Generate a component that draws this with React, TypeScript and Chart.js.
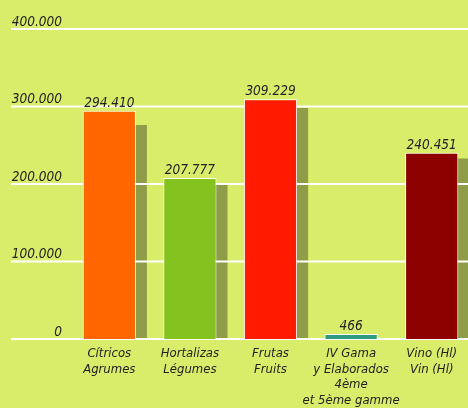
import React, { useEffect, useRef } from "react";
import { Chart, registerables } from "chart.js";

Chart.register(...registerables);

const categories: string[][] = [
  ["Cítricos", "Agrumes"],
  ["Hortalizas", "Légumes"],
  ["Frutas", "Fruits"],
  ["IV Gama", "y Elaborados", "4ème", "et 5ème gamme"],
  ["Vino (Hl)", "Vin (Hl)"],
];
const values: number[] = [294410, 207777, 309229, 466, 240451];
const shadowValues: number[] = [276000, 199000, 298000, 0, 233000];
const barColors: string[] = ["#ff6600", "#84c21f", "#ff1a00", "#2f9a80", "#8c0000"];
const yTicks: number[] = [0, 100000, 200000, 300000, 400000];

const BG = "#d9ed6a";
const SHADOW = "#8f9c48";
const TEXT = "#222222";
const FONT_FAMILY = '"DejaVu Sans Condensed", "Liberation Sans", sans-serif';

const fmt = (v: number) => String(v).replace(/\B(?=(\d{3})+(?!\d))/g, ".");

export default function App() {
  const ref = useRef<HTMLCanvasElement | null>(null);

  useEffect(() => {
    document.body.style.margin = "0";
    document.body.style.background = BG;
    const canvas = ref.current;
    if (!canvas) return;

    const custom = {
      id: "custom",
      afterDatasetsUpdate(chart: any) {
        const meta = chart.getDatasetMeta(1);
        meta.data.forEach((el: any) => {
          el.x += 11;
        });
      },
      beforeDatasetDraw(chart: any, args: any) {
        if (args.index !== 0) return;
        const ctx = chart.ctx;
        const y = chart.scales.y;
        ctx.save();
        ctx.strokeStyle = "#ffffff";
        ctx.lineWidth = 2;
        yTicks.forEach((t) => {
          const py = y.getPixelForValue(t);
          ctx.beginPath();
          ctx.moveTo(11, py);
          ctx.lineTo(chart.width, py);
          ctx.stroke();
        });
        ctx.restore();
      },
      afterDatasetsDraw(chart: any) {
        const ctx = chart.ctx;
        const meta = chart.getDatasetMeta(0);
        ctx.save();
        ctx.fillStyle = TEXT;
        ctx.font = `italic 13.5px ${FONT_FAMILY}`;
        ctx.textAlign = "center";
        ctx.textBaseline = "alphabetic";
        meta.data.forEach((el: any, i: number) => {
          ctx.fillText(fmt(values[i]), el.x, el.y - 4);
        });
        ctx.restore();
      },
    };

    const chart = new Chart(canvas, {
      type: "bar",
      data: {
        labels: categories,
        datasets: [
          {
            data: values,
            backgroundColor: barColors,
            borderColor: "#ffffff",
            borderWidth: 1,
            minBarLength: 5,
            grouped: false,
            barPercentage: 0.66,
            categoryPercentage: 1,
          },
          {
            data: shadowValues,
            backgroundColor: SHADOW,
            borderWidth: 0,
            grouped: false,
            barPercentage: 0.66,
            categoryPercentage: 1,
          },
        ],
      },
      options: {
        responsive: false,
        animation: false,
        devicePixelRatio: 1,
        layout: { padding: { top: 29, right: 4, left: 0, bottom: 0 } },
        plugins: { legend: { display: false }, tooltip: { enabled: false } },
        scales: {
          x: {
            grid: { display: false, drawTicks: false },
            border: { display: false },
            ticks: {
              color: TEXT,
              font: { family: FONT_FAMILY, size: 13, style: "italic", lineHeight: 1.2 },
              padding: 7,
              maxRotation: 0,
              autoSkip: false,
            },
            afterFit: (s: any) => {
              s.height = 69;
            },
          },
          y: {
            min: 0,
            max: 400000,
            grid: { display: false, drawTicks: false },
            border: { display: false },
            ticks: {
              stepSize: 100000,
              color: TEXT,
              font: { family: FONT_FAMILY, size: 13.5, style: "italic" },
              padding: 7,
              labelOffset: -7,
              callback: (v: any) => fmt(Number(v)),
            },
            afterFit: (s: any) => {
              s.width = 69;
            },
          },
        },
      },
      plugins: [custom],
    });

    return () => chart.destroy();
  }, []);

  return (
    <div
      style={{
        position: "fixed",
        left: 0,
        top: 0,
        width: 468,
        height: 408,
        overflow: "hidden",
        background: BG,
      }}
    >
      <canvas ref={ref} width={476} height={408} style={{ width: 476, height: 408, display: "block" }} />
    </div>
  );
}
